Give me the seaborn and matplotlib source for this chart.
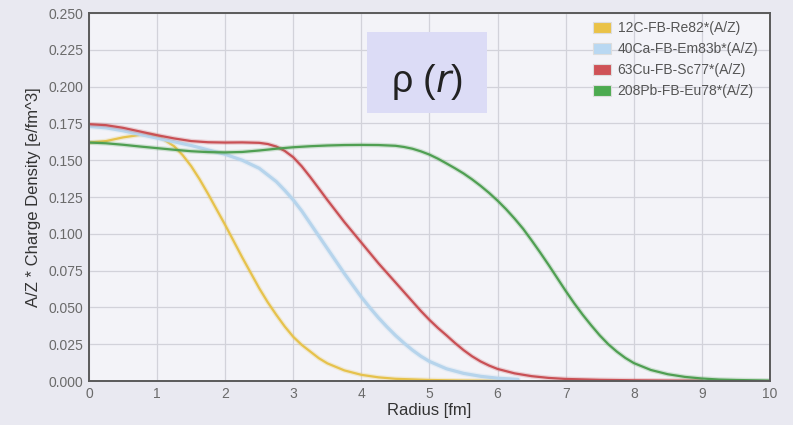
import matplotlib
matplotlib.use("Agg")
import matplotlib.pyplot as plt
import matplotlib.patheffects as pe
from matplotlib.patches import Patch, Rectangle
import pandas as pd
import seaborn as sns

# Charge density profiles (A/Z scaled), radius in fm
series_names = ["12C-FB-Re82*(A/Z)", "40Ca-FB-Em83b*(A/Z)",
                "63Cu-FB-Sc77*(A/Z)", "208Pb-FB-Eu78*(A/Z)"]
series_colors = ["#e6c24c", "#b6d4ec", "#c95055", "#4f9f52"]
legend_colors = ["#eac247", "#b9d8f2", "#cf5257", "#4caa50"]

r_c12 = [0, 0.25, 0.5, 0.75, 0.9, 1.0, 1.1, 1.25, 1.375, 1.5, 1.625, 1.75,
         1.875, 2.0, 2.125, 2.25, 2.375, 2.5, 2.625, 2.75, 2.875, 3.0,
         3.125, 3.25, 3.375, 3.5, 3.75, 4.0, 4.25, 4.5, 5.0, 5.5, 6.0, 6.3]
rho_c12 = [0.162, 0.163, 0.1655, 0.1672, 0.1675, 0.1665, 0.164, 0.1595,
           0.1535, 0.146, 0.137, 0.127, 0.1165, 0.106, 0.095, 0.084, 0.0735,
           0.063, 0.0535, 0.045, 0.037, 0.030, 0.0245, 0.020, 0.0155, 0.012,
           0.0072, 0.0042, 0.0025, 0.0015, 0.0007, 0.0003, 0.0001, 0.0]

r_ca40 = [0, 0.25, 0.5, 0.75, 1.0, 1.25, 1.5, 1.75, 2.0, 2.25, 2.5, 2.625,
          2.75, 2.875, 3.0, 3.125, 3.25, 3.375, 3.5, 3.625, 3.75, 3.875, 4.0,
          4.125, 4.25, 4.375, 4.5, 4.625, 4.75, 4.875, 5.0, 5.25, 5.5, 5.75,
          6.0, 6.3]
rho_ca40 = [0.173, 0.172, 0.170, 0.1675, 0.165, 0.1625, 0.160, 0.157, 0.154,
            0.150, 0.1445, 0.140, 0.1355, 0.1295, 0.123, 0.1155, 0.107,
            0.0985, 0.090, 0.0815, 0.073, 0.065, 0.057, 0.0498, 0.043,
            0.0368, 0.031, 0.0258, 0.021, 0.0168, 0.0133, 0.0083, 0.0052,
            0.0032, 0.0019, 0.0011]

r_cu63 = [0, 0.25, 0.5, 0.75, 1.0, 1.25, 1.5, 1.75, 2.0, 2.25, 2.5, 2.625,
          2.75, 2.875, 3.0, 3.125, 3.25, 3.375, 3.5, 3.625, 3.75, 3.875, 4.0,
          4.125, 4.25, 4.375, 4.5, 4.625, 4.75, 4.875, 5.0, 5.125, 5.25,
          5.375, 5.5, 5.625, 5.75, 5.875, 6.0, 6.25, 6.5, 6.75, 7.0, 7.5,
          8.0, 8.5, 9.0]
rho_cu63 = [0.1745, 0.1738, 0.172, 0.1695, 0.167, 0.1648, 0.163, 0.1622,
            0.162, 0.1621, 0.1618, 0.161, 0.1593, 0.1563, 0.152, 0.1458,
            0.1385, 0.1308, 0.123, 0.1155, 0.108, 0.101, 0.094, 0.087, 0.080,
            0.0735, 0.067, 0.0605, 0.054, 0.0475, 0.0415, 0.036, 0.031,
            0.0258, 0.021, 0.0168, 0.0133, 0.0105, 0.0082, 0.0052, 0.0033,
            0.0021, 0.0014, 0.0008, 0.0005, 0.0003, 0.0002]

r_pb208 = [0, 0.25, 0.5, 0.75, 1.0, 1.25, 1.5, 1.75, 2.0, 2.25, 2.5, 2.75,
           3.0, 3.25, 3.5, 3.75, 4.0, 4.25, 4.5, 4.625, 4.75, 4.875, 5.0,
           5.125, 5.25, 5.375, 5.5, 5.625, 5.75, 5.875, 6.0, 6.125, 6.25,
           6.375, 6.5, 6.625, 6.75, 6.875, 7.0, 7.125, 7.25, 7.375, 7.5,
           7.625, 7.75, 7.875, 8.0, 8.25, 8.5, 8.75, 9.0, 9.25, 9.5, 10.0]
rho_pb208 = [0.162, 0.1615, 0.1605, 0.1593, 0.1582, 0.1571, 0.1561, 0.1555,
             0.1553, 0.1556, 0.1566, 0.1578, 0.1588, 0.1595, 0.160, 0.1603,
             0.1604, 0.1603, 0.1598, 0.159, 0.1578, 0.156, 0.1538, 0.151,
             0.1478, 0.1445, 0.141, 0.137, 0.1326, 0.1278, 0.1225, 0.1167,
             0.1103, 0.1034, 0.0955, 0.0873, 0.0788, 0.070, 0.0612, 0.0528,
             0.045, 0.0378, 0.031, 0.025, 0.020, 0.0157, 0.0122, 0.0075,
             0.0046, 0.0028, 0.0017, 0.001, 0.0007, 0.0003]

x_ticks = list(range(0, 11))
y_ticks = [0.000, 0.025, 0.050, 0.075, 0.100, 0.125, 0.150, 0.175, 0.200,
           0.225, 0.250]

frames = []
for name, r, rho in zip(series_names,
                        [r_c12, r_ca40, r_cu63, r_pb208],
                        [rho_c12, rho_ca40, rho_cu63, rho_pb208]):
    frames.append(pd.DataFrame({"r": r, "rho": rho, "nucleus": name}))
df = pd.concat(frames, ignore_index=True)

sns.set_theme(style="whitegrid")
plt.rcParams["font.family"] = ["Liberation Sans", "DejaVu Sans"]

fig = plt.figure(figsize=(7.93, 4.25), dpi=100, facecolor="#e9e9f1")
ax = fig.add_axes([0.1122, 0.1035, 0.8588, 0.8659])
ax.set_facecolor("#f3f3f8")

for name, col in zip(series_names, series_colors):
    lw = 2.3 if name.startswith("40Ca") else 1.6
    sns.lineplot(data=df[df["nucleus"] == name], x="r", y="rho", color=col,
                 linewidth=lw, ax=ax, legend=False, estimator=None, sort=False,
                 solid_joinstyle="round", solid_capstyle="round",
                 path_effects=[pe.Stroke(linewidth=lw + 1.8, foreground=col,
                                         alpha=0.22),
                               pe.Normal()])

ax.set_xlim(0, 10)
ax.set_ylim(0, 0.25)
ax.set_xticks(x_ticks)
ax.set_yticks(y_ticks)
ax.set_xticklabels([str(t) for t in x_ticks])
ax.set_yticklabels([f"{t:.3f}" for t in y_ticks])
ax.tick_params(axis="both", length=0, labelsize=10, colors="#6a6a6a", pad=4)
ax.grid(True, color="#d2d2da", linewidth=0.9)
for s in ax.spines.values():
    s.set_color("#5a5a5a")
    s.set_linewidth(1.4)

ax.set_xlabel("Radius [fm]", fontsize=12, color="#333333", labelpad=2)
ax.set_ylabel("A/Z * Charge Density [e/fm^3]", fontsize=12, color="#333333",
              labelpad=5)

# title box
ax.add_patch(Rectangle((0.408, 0.728), 0.176, 0.220, transform=ax.transAxes,
                       facecolor="#dcdcf6", edgecolor="none", zorder=1))
ax.text(0.496, 0.812, r"ρ ($\mathit{r}$)", transform=ax.transAxes,
        ha="center", va="center", fontsize=27, color="#222222", zorder=5)

handles = [Patch(facecolor=c, edgecolor="#dddddd", linewidth=0.8)
           for c in legend_colors]
leg = ax.legend(handles, series_names, loc="upper right", frameon=False,
                fontsize=10, handlelength=1.3, handleheight=0.8,
                handletextpad=0.5, labelspacing=0.5,
                bbox_to_anchor=(0.995, 1.0), borderaxespad=0.2)
for t in leg.get_texts():
    t.set_color("#555555")

fig.savefig("out.png", dpi=100, facecolor=fig.get_facecolor())
